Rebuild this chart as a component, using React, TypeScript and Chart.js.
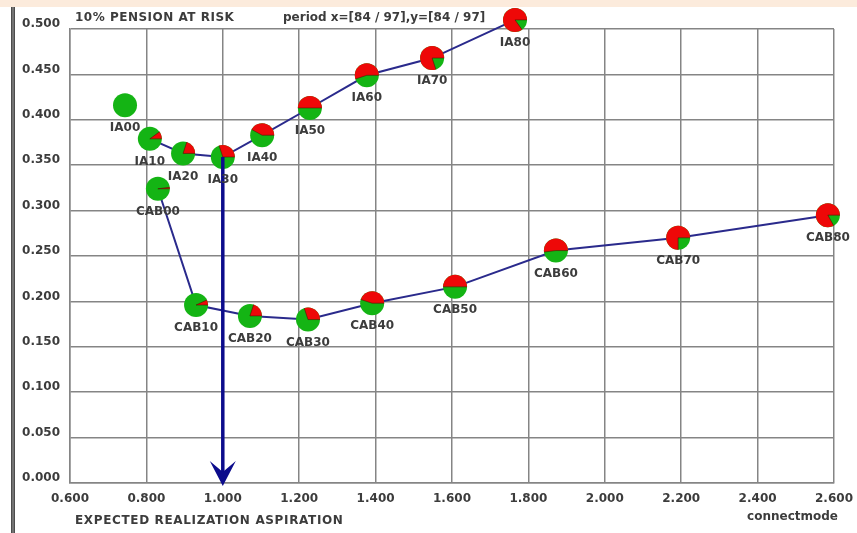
import React, { useEffect, useRef } from "react";
import { Chart, registerables } from "chart.js";

Chart.register(...registerables);

// ---- data ----
const iaLabels = ["IA00", "IA10", "IA20", "IA30", "IA40", "IA50", "IA60", "IA70", "IA80"];
const iaX = [0.744, 0.809, 0.896, 1.0, 1.103, 1.228, 1.377, 1.548, 1.765];
const iaY = [0.416, 0.379, 0.363, 0.359, 0.383, 0.413, 0.449, 0.468, 0.51];
const iaRedShare = [0.0, 0.1, 0.2, 0.3, 0.42, 0.5, 0.55, 0.8, 0.85];

const cabLabels = ["CAB00", "CAB10", "CAB20", "CAB30", "CAB40", "CAB50", "CAB60", "CAB70", "CAB80"];
const cabX = [0.83, 0.93, 1.071, 1.223, 1.391, 1.608, 1.872, 2.192, 2.584];
const cabY = [0.324, 0.196, 0.184, 0.18, 0.198, 0.216, 0.256, 0.27, 0.295];
const cabRedShare = [0.02, 0.07, 0.2, 0.3, 0.45, 0.5, 0.52, 0.75, 0.83];

const xMin = 0.6, xMax = 2.6, xStep = 0.2;
const yMin = 0.0, yMax = 0.5, yStep = 0.05;

const titleLeft = "10% PENSION AT RISK";
const titlePeriod = "period x=[84 / 97],y=[84 / 97]";
const xAxisTitle = "EXPECTED REALIZATION ASPIRATION";
const modeText = "connectmode";
const arrowFromIndex = 3; // IA30 -> x axis

const GREEN = "#14b414";
const RED = "#ee0808";
const NAVY = "#0c0c8c";
const LINE = "#2a2a8c";
const TEXT = "#3c3c3c";
const FONT = "bold 12px 'DejaVu Sans'";

function drawPie(ctx: CanvasRenderingContext2D, x: number, y: number, r: number, share: number) {
  ctx.beginPath();
  ctx.arc(x, y, r, 0, Math.PI * 2);
  ctx.fillStyle = GREEN;
  ctx.fill();
  if (share > 0) {
    const a = Math.PI * 2 * share;
    ctx.beginPath();
    ctx.moveTo(x, y);
    ctx.arc(x, y, r, 0, -a, true);
    ctx.closePath();
    ctx.fillStyle = RED;
    ctx.fill();
    ctx.beginPath();
    ctx.moveTo(x + r, y);
    ctx.lineTo(x, y);
    ctx.lineTo(x + r * Math.cos(-a), y + r * Math.sin(-a));
    ctx.strokeStyle = "rgba(70,20,0,0.55)";
    ctx.lineWidth = 1;
    ctx.stroke();
  }
}

const decor = {
  id: "decor",
  beforeDraw(chart: any) {
    const { ctx, width, height } = chart;
    ctx.save();
    ctx.fillStyle = "#ffffff";
    ctx.fillRect(0, 0, width, height);
    ctx.fillStyle = "#fcebdc";
    ctx.fillRect(0, 0, width, 7);
    ctx.fillStyle = "#4d4d4d";
    ctx.fillRect(11, 7, 4, height - 7);
    ctx.fillStyle = "#9a9a9a";
    ctx.fillRect(12.5, 7, 1, height - 7);
    ctx.restore();
  },
  afterDatasetsDraw(chart: any) {
    const ctx: any = chart.ctx;
    const yScale = chart.scales.y;
    const groups = [
      { meta: chart.getDatasetMeta(0), labels: iaLabels, shares: iaRedShare },
      { meta: chart.getDatasetMeta(1), labels: cabLabels, shares: cabRedShare },
    ];
    ctx.save();
    // pies
    for (const g of groups) {
      g.meta.data.forEach((p: any, i: number) => drawPie(ctx, p.x, p.y, 12, g.shares[i]));
    }
    // arrow
    const src = groups[0].meta.data[arrowFromIndex];
    const tipY = yScale.getPixelForValue(0) + 3;
    const ax = src.x;
    ctx.strokeStyle = NAVY;
    ctx.lineWidth = 3.5;
    ctx.beginPath();
    ctx.moveTo(ax, src.y);
    ctx.lineTo(ax, tipY - 12);
    ctx.stroke();
    ctx.fillStyle = NAVY;
    ctx.beginPath();
    ctx.moveTo(ax, tipY);
    ctx.lineTo(ax - 13, tipY - 25);
    ctx.lineTo(ax, tipY - 14);
    ctx.lineTo(ax + 13, tipY - 25);
    ctx.closePath();
    ctx.fill();
    // point labels
    ctx.font = FONT;
    ctx.fillStyle = TEXT;
    ctx.textAlign = "center";
    ctx.textBaseline = "middle";
    for (const g of groups) {
      g.meta.data.forEach((p: any, i: number) => ctx.fillText(g.labels[i], p.x, p.y + 23));
    }
    // texts
    ctx.textAlign = "left";
    ctx.letterSpacing = "0.5px";
    ctx.fillText(titleLeft, 75, 18);
    ctx.letterSpacing = "0.65px";
    ctx.fillText(xAxisTitle, 75, 521);
    ctx.letterSpacing = "0px";
    ctx.fillText(titlePeriod, 283, 18);
    ctx.textAlign = "right";
    ctx.fillText(modeText, 838, 517);
    ctx.restore();
  },
};

export default function App() {
  const ref = useRef<HTMLCanvasElement | null>(null);

  useEffect(() => {
    document.body.style.margin = "0";
    const canvas = ref.current;
    if (!canvas) return;
    const noFirst = (c: any) => (c.p0DataIndex === 0 ? "rgba(0,0,0,0)" : undefined);
    const chart = new Chart(canvas, {
      type: "line",
      data: {
        datasets: [
          {
            label: "IA",
            data: iaX.map((x, i) => ({ x, y: iaY[i] })),
            borderColor: LINE,
            borderWidth: 2,
            pointRadius: 0,
            fill: false,
            clip: false as any,
            segment: { borderColor: noFirst },
          },
          {
            label: "CAB",
            data: cabX.map((x, i) => ({ x, y: cabY[i] })),
            borderColor: LINE,
            borderWidth: 2,
            pointRadius: 0,
            fill: false,
            clip: false as any,
          },
        ],
      },
      options: {
        responsive: false,
        animation: false,
        devicePixelRatio: 1,
        layout: { padding: { left: 0, top: 29, right: 23, bottom: 0 } },
        plugins: { legend: { display: false }, tooltip: { enabled: false }, title: { display: false } },
        scales: {
          x: {
            type: "linear",
            min: xMin,
            max: xMax,
            afterFit: (s: any) => {
              s.height = 50;
              s.paddingLeft = 0;
              s.paddingRight = 0;
            },
            afterBuildTicks: (s: any) => {
              const t = [];
              for (let v = xMin; v <= xMax + 1e-9; v += xStep) t.push({ value: Math.round(v * 1000) / 1000 });
              s.ticks = t;
            },
            ticks: {
              padding: 9,
              color: TEXT,
              font: { family: "'DejaVu Sans'", size: 12, weight: "bold" },
              maxRotation: 0,
              autoSkip: false,
              callback: (v: any) => Number(v).toFixed(3),
            },
            grid: { color: "#858585", lineWidth: 1.5, drawTicks: false },
            border: { color: "#858585", width: 1.5 },
          },
          y: {
            type: "linear",
            min: yMin,
            max: yMax,
            afterFit: (s: any) => {
              s.width = 70;
              s.paddingTop = 0;
              s.paddingBottom = 0;
            },
            afterBuildTicks: (s: any) => {
              const t = [];
              for (let v = yMin; v <= yMax + 1e-9; v += yStep) t.push({ value: Math.round(v * 1000) / 1000 });
              s.ticks = t;
            },
            ticks: {
              padding: 10,
              labelOffset: -5,
              color: TEXT,
              font: { family: "'DejaVu Sans'", size: 12, weight: "bold" },
              autoSkip: false,
              callback: (v: any) => Number(v).toFixed(3),
            },
            grid: { color: "#858585", lineWidth: 1.5, drawTicks: false },
            border: { color: "#858585", width: 1.5 },
          },
        },
      },
      plugins: [decor],
    });
    return () => chart.destroy();
  }, []);

  return (
    <div style={{ width: 857, height: 533, position: "relative" }}>
      <canvas ref={ref} width={857} height={533} style={{ display: "block" }} />
    </div>
  );
}
